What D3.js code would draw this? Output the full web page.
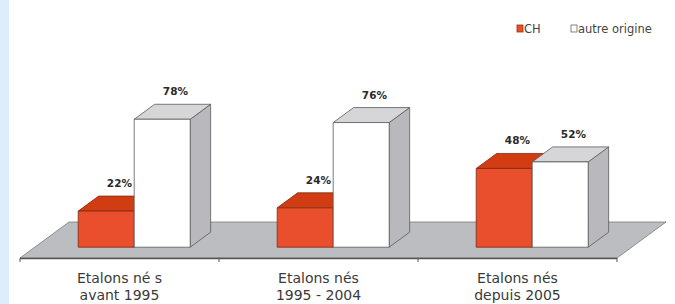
<!DOCTYPE html>
<meta charset="utf-8">
<style>
body { margin: 0; background: #fff; }
text { font-family: "DejaVu Sans", Arial, sans-serif; }
</style>
<body>
<script src="https://cdnjs.cloudflare.com/ajax/libs/d3/7.8.5/d3.min.js"></script>
<script>

var categories = [["Etalons né s", "avant 1995"], ["Etalons nés", "1995 - 2004"], ["Etalons nés", "depuis 2005"]];
var series = ["CH", "autre origine"];
var chValues = [22, 24, 48];
var autreValues = [78, 76, 52];

var width = 675, height = 304;

var svg = d3.select("body").append("svg")
    .attr("width", width)
    .attr("height", height);

// light blue strip on the left
svg.append("rect").attr("x", 0).attr("y", 0).attr("width", 9).attr("height", height).attr("fill", "#ddedfb");

var x0 = d3.scaleBand()
    .domain(d3.range(categories.length))
    .range([20, 617]);

var x1 = d3.scaleBand()
    .domain(series)
    .range([0, x0.bandwidth()])
    .paddingOuter(0.777);

var y = d3.scaleLinear()
    .domain([0, 100])
    .range([258, 94]);

// floor depth (full) and bar depth position in fractions of it
var depthX = 49, depthY = -36;
var zFront = 0.3, zBack = 0.717;

function p(px, py, z) { return [px + z * depthX, py + z * depthY]; }
function poly(pts) { return pts.map(function(d) { return d.join(","); }).join(" "); }

// floor
var fl = x0.range()[0], fr = x0.range()[1], fy = y(0);
svg.append("polygon")
    .attr("points", poly([p(fl, fy, 0), p(fr, fy, 0), p(fr, fy, 1), p(fl, fy, 1)]))
    .attr("fill", "#bcbdc1")
    .attr("stroke", "#7a7a7a")
    .attr("stroke-width", 0.8);
svg.append("line")
    .attr("x1", fl).attr("x2", fr).attr("y1", fy + 0.5).attr("y2", fy + 0.5)
    .attr("stroke", "#555").attr("stroke-width", 1.6);

// ticks between categories
svg.selectAll(".tick")
    .data(d3.range(categories.length + 1))
    .enter().append("line")
    .attr("x1", function(i) { return fl + i * x0.step(); })
    .attr("x2", function(i) { return fl + i * x0.step(); })
    .attr("y1", fy).attr("y2", fy + 4)
    .attr("stroke", "#555").attr("stroke-width", 1);

var colors = {
  "CH": { front: "#e94f2d", top: "#d23c12", side: "#b83210", edge: "#7e2a12" },
  "autre origine": { front: "#ffffff", top: "#d6d6d8", side: "#b9b9bd", edge: "#5a5a5a" }
};

function drawBar(g, s, ci, v) {
  var c = colors[s];
  var xl = x0(ci) + x1(s), xr = xl + x1.bandwidth();
  var yb = y(0), yt = y(v);
  var fbl = p(xl, yb, zFront), fbr = p(xr, yb, zFront), ftl = p(xl, yt, zFront), ftr = p(xr, yt, zFront);
  var bbr = p(xr, yb, zBack), btl = p(xl, yt, zBack), btr = p(xr, yt, zBack);
  g.append("polygon").attr("points", poly([fbr, ftr, btr, bbr]))
    .attr("fill", c.side).attr("stroke", c.edge).attr("stroke-width", 0.8);
  g.append("polygon").attr("points", poly([ftl, ftr, btr, btl]))
    .attr("fill", c.top).attr("stroke", c.edge).attr("stroke-width", 0.8);
  g.append("polygon").attr("points", poly([fbl, fbr, ftr, ftl]))
    .attr("fill", c.front).attr("stroke", c.edge).attr("stroke-width", 0.8);
  g.append("text")
    .attr("x", (ftl[0] + ftr[0]) / 2 + (btl[0] - ftl[0]) / 2 + 3)
    .attr("y", btl[1] - 9)
    .attr("text-anchor", "middle")
    .attr("font-size", 10.5)
    .attr("font-weight", "bold")
    .attr("fill", "#2a2a2a")
    .text(v + "%");
}

categories.forEach(function(cat, i) {
  var g = svg.append("g");
  drawBar(g, "CH", i, chValues[i]);
  drawBar(g, "autre origine", i, autreValues[i]);
});

// category labels
var labels = svg.selectAll(".cat")
    .data(categories)
    .enter().append("text")
    .attr("x", function(d, i) { return x0(i) + x0.bandwidth() / 2; })
    .attr("y", 283)
    .attr("text-anchor", "middle")
    .attr("font-size", 14)
    .attr("fill", "#3a3a3a");
labels.append("tspan").text(function(d) { return d[0]; });
labels.append("tspan")
    .attr("x", function(d, i) { return x0(i) + x0.bandwidth() / 2; })
    .attr("dy", 17)
    .text(function(d) { return d[1]; });

// legend
var legX = [517, 571];
var leg = svg.selectAll(".leg")
    .data(series)
    .enter().append("g")
    .attr("transform", function(d, i) { return "translate(" + legX[i] + ",25)"; });
leg.append("rect")
    .attr("width", 6).attr("height", 7)
    .attr("fill", function(d) { return colors[d].front; })
    .attr("stroke", function(d) { return d == "CH" ? "#9a3010" : "#666"; })
    .attr("stroke-width", 0.8);
leg.append("text")
    .attr("x", 7).attr("y", 7.5)
    .attr("font-size", 11.5)
    .attr("fill", "#444")
    .text(function(d) { return d; });

</script>
</body>
